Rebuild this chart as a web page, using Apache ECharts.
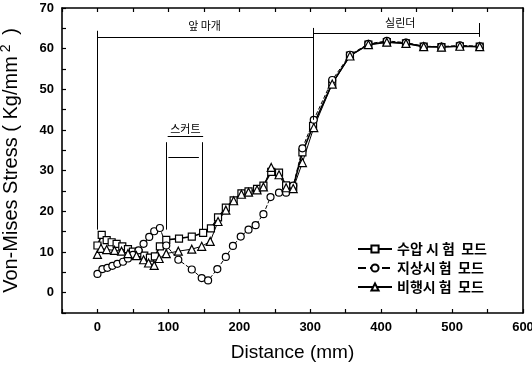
<!DOCTYPE html>
<html>
<head>
<meta charset="utf-8">
<script src="https://cdn.jsdelivr.net/npm/echarts@6/dist/echarts.min.js"></script>
<style>
  html, body { margin: 0; padding: 0; background: #fff; }
  #chart { width: 532px; height: 369px; }
</style>
</head>
<body>
<div id="chart"></div>
<script>
// distance (mm), stress (Kg/mm2)
const hydroData = [
  [0, 11.6], [6, 14.2], [13, 12.9], [20, 12.4], [27, 12], [35, 11.4], [43, 10.7], [50, 10.1],
  [58, 9.7], [66, 9.1], [74, 8.6], [81, 8.9], [88, 11.4], [97, 13], [115, 13.3], [133, 13.8],
  [149, 14.7], [160, 15.8], [170, 18.5], [181, 20.9], [192, 22.7], [203, 24.4], [213, 24.9],
  [225, 25.5], [234, 26.3], [245, 29.7], [256, 29.5], [266, 26.4], [276, 26], [289, 34.5],
  [304, 41], [331, 51.5], [356, 58.3], [382, 61], [408, 61.6], [435, 61.3], [460, 60.5],
  [485, 60.4], [511, 60.6], [539, 60.5]
];
const groundData = [
  [0, 4.6], [7, 5.8], [14, 6.1], [21, 6.6], [28, 7.1], [36, 7.6], [43, 8.4], [50, 9.3],
  [58, 10.4], [65, 12], [73, 13.7], [80, 15.1], [88, 15.9], [97, 11.6], [114, 8.1], [133, 5.7],
  [147, 3.6], [156, 3], [169, 5.8], [181, 8.8], [191, 11.5], [202, 13.8], [213, 15.5],
  [223, 16.6], [234, 19.3], [244, 23.5], [256, 24.6], [266, 24.6], [276, 26.3], [289, 35.5],
  [305, 42.5], [331, 52.3], [356, 58.5], [382, 61.2], [408, 61.9], [435, 61.5], [460, 60.6],
  [485, 60.5], [511, 60.8], [539, 60.6]
];
const flightData = [
  [0, 9.4], [5, 10.9], [13, 10.6], [24, 10.4], [34, 10.2], [43, 9.6], [55, 9.1], [65, 8.1],
  [72, 7.3], [80, 6.7], [87, 8.4], [97, 9.6], [114, 10.2], [133, 10.7], [147, 11.4], [159, 12.6],
  [170, 17.5], [181, 20.3], [192, 22.6], [203, 24.2], [213, 24.7], [225, 25.3], [234, 26],
  [245, 30.8], [256, 29], [266, 25.8], [276, 25.6], [289, 32], [305, 40.6], [331, 51.3],
  [356, 58.2], [382, 61], [408, 61.6], [435, 61.3], [460, 60.5], [485, 60.4], [511, 60.6],
  [539, 60.5]
];
const seriesNames = ['수압 시 험  모드', '지상시 험  모드', '비행시 험  모드'];

// part brackets drawn on top of the plot
const bracketLines = [
  [[0, 15.5], [0, 64.4]],
  [[0, 62.9], [304, 62.9]],
  [[304, 42.5], [304, 65.1]],
  [[304, 63.8], [538, 63.8]],
  [[538, 62.9], [538, 66.3]],
  [[97, 15.5], [97, 37]],
  [[148, 15.5], [148, 37]],
  [[100, 33.4], [143, 33.4]],
  [[99, 38.4], [149, 38.4]]
];
const partLabels = [
  ['앞 마개', 151, 65.6],
  ['실린더', 427, 66.3],
  ['스커트', 124, 40.4]
];

const xTicks = { min: -50, max: 600, interval: 50 };
const yTicks = { min: -5, max: 70, interval: 5 };

var chartDom = document.getElementById('chart');
var myChart = echarts.init(chartDom, null, { renderer: 'canvas' });
var option;

const tickFont = {
  color: '#000',
  fontFamily: 'Liberation Sans Narrow, Liberation Sans, Arial',
  fontWeight: 'bold',
  fontSize: 13,
};

function lineSeries(name, data, symbol, size, lineStyle) {
  return {
    name: name,
    type: 'line',
    data: data,
    symbol: symbol,
    symbolSize: size,
    showSymbol: true,
    itemStyle: { color: '#fff', borderColor: '#000', borderWidth: 1.2 },
    lineStyle: Object.assign({ color: '#000' }, lineStyle),
    z: 3,
  };
}

let series = [
  lineSeries(seriesNames[0], hydroData, 'rect', 7, { width: 1.6 }),
  lineSeries(seriesNames[1], groundData, 'circle', 7, { width: 1, type: 'dashed' }),
  lineSeries(seriesNames[2], flightData, 'triangle', 8, { width: 1 }),
];

series[0].markLine = {
  silent: true,
  symbol: ['none', 'none'],
  lineStyle: { color: '#000', width: 1, type: 'solid' },
  label: { show: false },
  animation: false,
  data: bracketLines.map(l => [{ coord: l[0] }, { coord: l[1] }]),
};
series[0].markPoint = {
  silent: true,
  symbol: 'rect',
  symbolSize: 1,
  itemStyle: { color: 'rgba(0,0,0,0)', borderWidth: 0 },
  label: {
    show: true,
    position: 'inside',
    formatter: '{b}',
    color: '#000',
    fontFamily: 'Noto Sans CJK KR',
    fontSize: 11,
  },
  animation: false,
  data: partLabels.map(p => ({ name: p[0], coord: [p[1], p[2]] })),
};

const axisLineStyle = { color: '#000', width: 1.6 };
const tickStyle = { inside: true, length: 4, lineStyle: { color: '#000', width: 1.2 } };

option = {
  animation: false,
  backgroundColor: '#fff',
  grid: { left: 62, right: 9, top: 8, bottom: 56, containLabel: false, outerBoundsMode: 'none' },
  legend: {
    orient: 'vertical',
    left: 352,
    top: 237,
    itemWidth: 34,
    itemHeight: 9,
    itemGap: 5,
    data: seriesNames,
    textStyle: {
      color: '#000',
      fontFamily: 'Noto Sans CJK KR',
      fontWeight: 'bold',
      fontSize: 14,
    },
  },
  xAxis: [
    {
      type: 'value',
      position: 'bottom',
      min: xTicks.min,
      max: xTicks.max,
      interval: xTicks.interval,
      name: 'Distance (mm)',
      nameLocation: 'middle',
      nameGap: 30,
      nameTextStyle: { color: '#000', fontFamily: 'Liberation Sans', fontSize: 19 },
      axisLine: { onZero: false, lineStyle: axisLineStyle },
      axisTick: tickStyle,
      axisLabel: {
        ...tickFont,
        margin: 8,
        formatter: v => (v % 100 === 0 && v >= 0 ? String(v) : ''),
      },
      splitLine: { show: false },
    },
    {
      type: 'value',
      position: 'top',
      min: xTicks.min,
      max: xTicks.max,
      interval: xTicks.interval,
      axisLine: { onZero: false, lineStyle: axisLineStyle },
      axisTick: tickStyle,
      axisLabel: { show: false },
      splitLine: { show: false },
    },
  ],
  yAxis: [
    {
      type: 'value',
      position: 'left',
      min: yTicks.min,
      max: yTicks.max,
      interval: yTicks.interval,
      name: 'Von-Mises Stress ( Kg/mm{sup|2} )',
      nameLocation: 'middle',
      nameGap: 39,
      nameTextStyle: {
        color: '#000',
        fontFamily: 'Liberation Sans',
        fontSize: 20,
        rich: {
          sup: { fontSize: 14, fontFamily: 'Liberation Sans', color: '#000', verticalAlign: 'top', padding: [0, 4, 10, 4] },
        },
      },
      axisLine: { onZero: false, lineStyle: axisLineStyle },
      axisTick: tickStyle,
      axisLabel: {
        ...tickFont,
        margin: 8,
        formatter: v => (v % 10 === 0 && v >= 0 ? String(v) : ''),
      },
      splitLine: { show: false },
    },
    {
      type: 'value',
      position: 'right',
      min: yTicks.min,
      max: yTicks.max,
      interval: yTicks.interval,
      axisLine: { show: true, onZero: false, lineStyle: axisLineStyle },
      axisTick: { show: false },
      axisLabel: { show: false },
      splitLine: { show: false },
    },
  ],
  series: series,
};

option && myChart.setOption(option);
</script>
</body>
</html>
